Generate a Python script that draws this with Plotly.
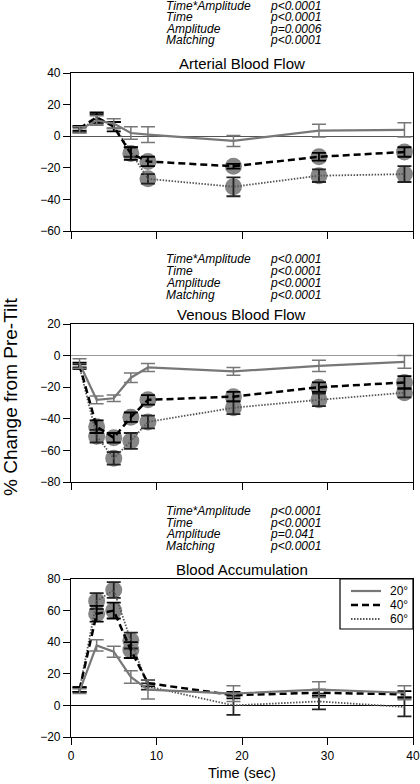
import plotly.graph_objects as go

# ---------------- data ----------------
time_s = [1, 3, 5, 7, 9, 19, 29, 39]
angles = ["20°", "40°", "60°"]

art_20 = [4, 10, 8, 2, 1, -3, 3.5, 4]
art_20_err = [2, 3, 3, 4, 5, 3.5, 4, 4.5]
art_40 = [5, 12, 6, -11, -16, -19, -13, -10]
art_40_err = [1.5, 3, 3, 4, 3, 1.5, 2.5, 3]
art_60 = [4, 11, 7, -10, -27, -32, -25, -24]
art_60_err = [1.5, 3, 2, 3, 3, 6, 4, 5]
art_40_sig = [0, 0, 0, 1, 1, 1, 1, 1]
art_60_sig = [0, 0, 0, 0, 1, 1, 1, 1]

ven_20 = [-5, -28, -27, -14, -7.5, -10, -6.5, -4]
ven_20_err = [3, 2.5, 2, 3, 2.5, 2.5, 3.5, 4]
ven_40 = [-6, -45, -52, -39, -28, -26, -20, -17]
ven_40_err = [1.5, 4, 3, 3, 3, 3, 3, 4]
ven_60 = [-7, -51, -65, -54, -42, -33, -28, -23.5]
ven_60_err = [1.5, 4, 4, 5, 4, 4, 4, 3]
ven_40_sig = [0, 1, 1, 1, 1, 1, 1, 1]
ven_60_sig = [0, 1, 1, 1, 1, 1, 1, 1]

acc_20 = [9, 38, 34, 18, 10, 7.5, 10, 8]
acc_20_err = [1.5, 3.5, 3.5, 4, 6, 5, 5, 4.5]
acc_40 = [10, 58, 60, 35, 14, 6.5, 8, 7]
acc_40_err = [1.5, 5, 5, 5, 2, 2, 2, 2]
acc_60 = [10, 66, 73, 41, 12, 0, 2.5, -1]
acc_60_err = [1.5, 5, 5, 5, 2, 6, 5, 6]
acc_40_sig = [0, 1, 1, 1, 0, 0, 0, 0]
acc_60_sig = [0, 1, 1, 1, 0, 0, 0, 0]

panel_titles = ["Arterial Blood Flow", "Venous Blood Flow", "Blood Accumulation"]
stat_terms = ["Time*Amplitude", "Time", "Amplitude", "Matching"]
art_p = ["p<0.0001", "p<0.0001", "p=0.0006", "p<0.0001"]
ven_p = ["p<0.0001", "p<0.0001", "p<0.0001", "p<0.0001"]
acc_p = ["p<0.0001", "p<0.0001", "p=0.041", "p<0.0001"]

y_ranges = [[-60, 40], [-80, 20], [-20, 80]]
x_ticks = [0, 10, 20, 30, 40]

# ---------------- figure ----------------
W, H = 420, 784
FONT = "Arial, 'Liberation Sans', Helvetica, sans-serif"

def px_x(x):
    return x / W

def px_y(y):
    return 1 - y / H

# line styles per angle (20°, 40°, 60°)
line_styles = [
    dict(color="#777777", width=2.2),
    dict(color="#000000", width=2.5, dash="7px,4px"),
    dict(color="#555555", width=1.8, dash="1.5px,1.5px"),
]
err_styles = [
    dict(color="#777777", thickness=1.5, width=7),
    dict(color="#000000", thickness=1.8, width=7),
    dict(color="#222222", thickness=1.8, width=7),
]

panels = [
    dict(d=[art_20, art_40, art_60], e=[art_20_err, art_40_err, art_60_err],
         s40=art_40_sig, s60=art_60_sig, top=73, bot=231, p=art_p, stat_y=[6.2, 17.4, 28.6, 39.8],
         title_y=64, zc="#555555"),
    dict(d=[ven_20, ven_40, ven_60], e=[ven_20_err, ven_40_err, ven_60_err],
         s40=ven_40_sig, s60=ven_60_sig, top=324, bot=482, p=ven_p, stat_y=[259.3, 271.3, 283, 294.7],
         title_y=314, zc="#9a9a9a"),
    dict(d=[acc_20, acc_40, acc_60], e=[acc_20_err, acc_40_err, acc_60_err],
         s40=acc_40_sig, s60=acc_60_sig, top=579, bot=737, p=acc_p, stat_y=[511, 522.7, 534, 545.7],
         title_y=569, zc="#000000"),
]

fig = go.Figure()
annotations = []
shapes = []
layout_axes = {}
x_dom = [px_x(71), px_x(413)]

for i, pn in enumerate(panels):
    n = i + 1
    xa = "x" if n == 1 else f"x{n}"
    ya = "y" if n == 1 else f"y{n}"
    # significance circles
    cx, cy = [], []
    for t, v, s in zip(time_s, pn["d"][1], pn["s40"]):
        if s:
            cx.append(t); cy.append(v)
    for t, v, s in zip(time_s, pn["d"][2], pn["s60"]):
        if s:
            cx.append(t); cy.append(v)
    fig.add_trace(go.Scatter(x=cx, y=cy, mode="markers", xaxis=xa, yaxis=ya,
                             marker=dict(size=17, color="#868686", line=dict(width=0)),
                             showlegend=False, hoverinfo="skip"))
    for k in [2, 1, 0]:
        fig.add_trace(go.Scatter(x=time_s, y=pn["d"][k], mode="lines", name=angles[k],
                                 xaxis=xa, yaxis=ya, line=line_styles[k],
                                 error_y=dict(type="data", array=pn["e"][k], **err_styles[k]),
                                 showlegend=False))

    xkey = "xaxis" if n == 1 else f"xaxis{n}"
    ykey = "yaxis" if n == 1 else f"yaxis{n}"
    layout_axes[xkey] = dict(domain=x_dom, anchor=ya, range=[0, 40], tickvals=x_ticks,
                             showticklabels=(n == 3), ticks="outside", ticklen=7, tickwidth=1.2,
                             tickcolor="black", showline=True, linecolor="black", linewidth=1.2,
                             mirror=True, showgrid=False, zeroline=False, automargin=False,
                             tickfont=dict(family=FONT, size=12, color="black"))
    yr = y_ranges[i]
    layout_axes[ykey] = dict(domain=[px_y(pn["bot"]), px_y(pn["top"])], anchor=xa, range=yr,
                             tickvals=list(range(yr[0], yr[1] + 1, 20)),
                             ticks="outside", ticklen=7, tickwidth=1.2, tickcolor="black",
                             showline=True, linecolor="black", linewidth=1.2, mirror=True,
                             showgrid=False, zeroline=True, zerolinecolor=pn["zc"], zerolinewidth=1,
                             automargin=False,
                             tickfont=dict(family=FONT, size=12, color="black"))
    # title
    annotations.append(dict(text=panel_titles[i], x=px_x(242), y=px_y(pn["title_y"]), xref="paper", yref="paper",
                            xanchor="center", yanchor="middle", showarrow=False,
                            font=dict(family=FONT, size=15, color="black")))
    # stats
    for term, pv, yy in zip(stat_terms, pn["p"], pn["stat_y"]):
        annotations.append(dict(text=f"<i>{term}</i>", x=px_x(164), y=px_y(yy), xref="paper", yref="paper",
                                xanchor="left", yanchor="middle", showarrow=False,
                                font=dict(family=FONT, size=12, color="black")))
        annotations.append(dict(text=f"<i>{pv}</i>", x=px_x(268), y=px_y(yy), xref="paper", yref="paper",
                                xanchor="left", yanchor="middle", showarrow=False,
                                font=dict(family=FONT, size=12, color="black")))

# legend drawn as a small box inside the bottom panel
leg_left, leg_right, leg_top, leg_bot = 340, 413, 579, 629
shapes.append(dict(type="rect", xref="paper", yref="paper",
                   x0=px_x(leg_left), x1=px_x(leg_right), y0=px_y(leg_bot), y1=px_y(leg_top),
                   line=dict(color="black", width=1.2), fillcolor="white", layer="above"))
leg_rows = [591, 605, 619]
for k, ry in enumerate(leg_rows):
    ls = line_styles[k]
    shapes.append(dict(type="line", xref="paper", yref="paper",
                       x0=px_x(351), x1=px_x(381), y0=px_y(ry), y1=px_y(ry),
                       line=dict(color=ls["color"], width=ls["width"], dash=ls.get("dash", "solid")),
                       layer="above"))
    annotations.append(dict(text=angles[k], x=px_x(388), y=px_y(ry), xref="paper", yref="paper",
                            xanchor="left", yanchor="middle", showarrow=False,
                            font=dict(family=FONT, size=12, color="black")))

annotations.append(dict(text="% Change from Pre-Tilt", x=px_x(10), y=px_y(397), xref="paper", yref="paper",
                        xanchor="center", yanchor="middle", textangle=-90, showarrow=False,
                        font=dict(family=FONT, size=19, color="black")))
annotations.append(dict(text="Time (sec)", x=px_x(242), y=px_y(773), xref="paper", yref="paper",
                        xanchor="center", yanchor="middle", showarrow=False,
                        font=dict(family=FONT, size=14.5, color="black")))

fig.update_layout(
    width=W, height=H, margin=dict(l=0, r=0, t=0, b=0, autoexpand=False),
    paper_bgcolor="white", plot_bgcolor="white",
    annotations=annotations, shapes=shapes,
    showlegend=False,
    **layout_axes,
)

fig.write_html(
    "out.html",
    config={"displayModeBar": False},
    post_script="document.body.style.margin='0px';document.body.style.padding='0px';"
                "document.body.style.overflow='hidden';",
)
